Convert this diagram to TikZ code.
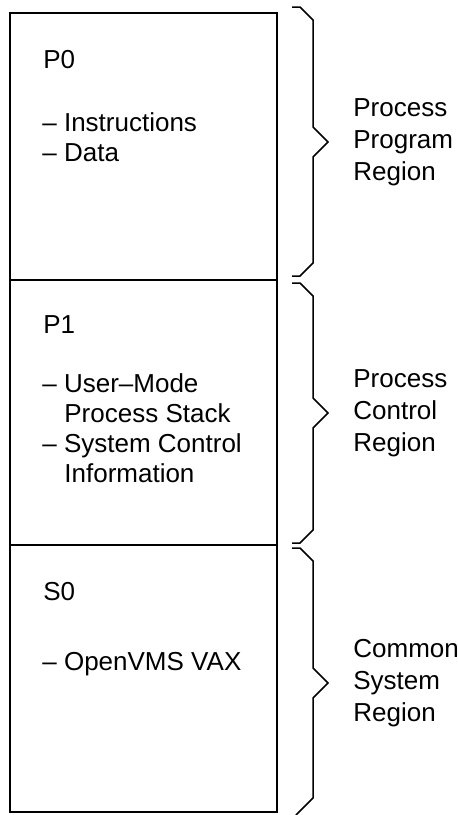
\documentclass[tikz,border=0pt]{standalone}
\usepackage{fontspec}
\setmainfont{Liberation Sans}
\tikzset{
  lbl/.style={anchor=base west, inner sep=0pt, font=\fontsize{13}{15}\selectfont},
  regionlbl/.style={anchor=west, inner sep=0pt, align=left, font=\fontsize{13}{16}\selectfont},
  bracket/.style={line width=0.75pt, line join=miter}
}
\begin{document}
\begin{tikzpicture}[x=0.5pt,y=-0.5pt]
    \useasboundingbox (0,0) rectangle (457,815);
    \draw[line width=1pt] (10,13) rectangle (277,280);
    \draw[line width=1pt] (10,280) rectangle (277,545);
    \draw[line width=1pt] (10,545) rectangle (277,812);

    % P0
    \node[lbl] (p0) at (43,68) {P0};
    \node[lbl] (instr) at (42,131) {– Instructions};
    \node[lbl] (data) at (42,161) {– Data};
    % P1
    \node[lbl] (p1) at (43,333) {P1};
    \node[lbl] (usermode) at (42,392) {– User–Mode};
    \node[lbl] (stack) at (64,422) {Process Stack};
    \node[lbl] (sysctl) at (42,452) {– System Control};
    \node[lbl] (info) at (64,482) {Information};
    % S0
    \node[lbl] (s0) at (43,600) {S0};
    \node[lbl] (vms) at (42,670) {– OpenVMS VAX};

    % braces
    \draw[bracket] (292,7) -- (300,7) -- (313,20) -- (313,127) -- (328,142)
      -- (313,157) -- (313,263) -- (300,276) -- (292,276);
    \draw[bracket] (292,283) -- (300,283) -- (313,296) -- (313,398) -- (328,413)
      -- (313,428) -- (313,530) -- (300,543) -- (292,543);
    \draw[bracket] (292,548) -- (300,548) -- (313,561) -- (313,668) -- (328,683)
      -- (313,698) -- (313,798) -- (300,811) -- (296,815);

    \node[regionlbl] (progreg) at (353,142) {Process\\Program\\Region};
    \node[regionlbl] (ctrlreg) at (353,413) {Process\\Control\\Region};
    \node[regionlbl] (sysreg) at (353,683) {Common\\System\\Region};
\end{tikzpicture}
\end{document}
